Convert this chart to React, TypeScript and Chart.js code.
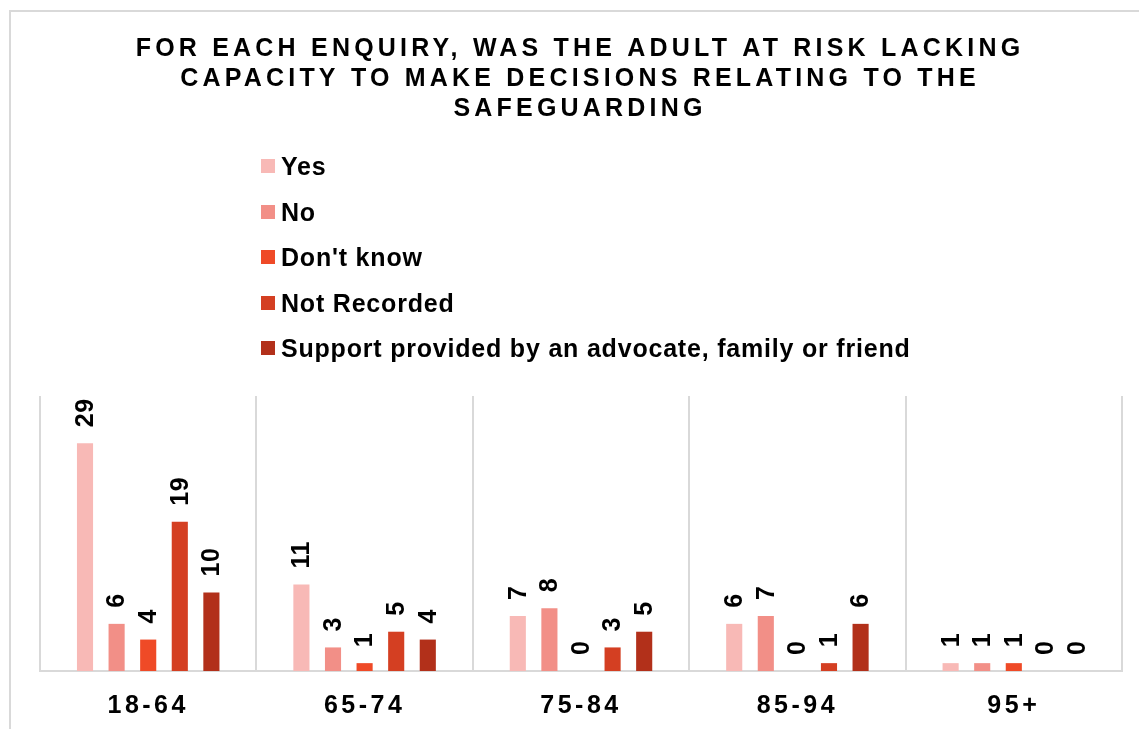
import React, { useEffect, useRef } from "react";
import { Chart, registerables } from "chart.js";

Chart.register(...registerables);

const TITLE_LINES = [
  "FOR EACH ENQUIRY, WAS THE ADULT AT RISK LACKING",
  "CAPACITY TO MAKE DECISIONS RELATING TO THE",
  "SAFEGUARDING",
];
const CATEGORIES = ["18-64", "65-74", "75-84", "85-94", "95+"];
const SERIES_NAMES = [
  "Yes",
  "No",
  "Don't know",
  "Not Recorded",
  "Support provided by an advocate, family or friend",
];
const YES = [29, 11, 7, 6, 1];
const NO = [6, 3, 8, 7, 1];
const DONT_KNOW = [4, 1, 0, 0, 1];
const NOT_RECORDED = [19, 5, 3, 1, 0];
const SUPPORT = [10, 4, 5, 6, 0];
const COLORS = ["#F8B9B6", "#F28F87", "#EF4A27", "#D43F22", "#B2301A"];

const FONT = "Arial, 'Liberation Sans', sans-serif";

const decorPlugin = {
  id: "decor",
  beforeDraw(chart: any) {
    const ctx = chart.ctx;
    ctx.save();
    ctx.fillStyle = "#fff";
    ctx.fillRect(0, 0, chart.width, chart.height);
    ctx.fillStyle = "#D9D9D9";
    ctx.fillRect(9, 10, chart.width - 9, 2);
    ctx.fillRect(9, 10, 2, chart.height - 10);
    ctx.restore();
    ctx.letterSpacing = "3.5px";
  },
  beforeDatasetsDraw(chart: any) {
    chart.ctx.letterSpacing = "0px";
  },
  afterDatasetsDraw(chart: any) {
    const ctx = chart.ctx;
    ctx.save();
    ctx.fillStyle = "#000";
    ctx.font = `bold 25px ${FONT}`;
    ctx.letterSpacing = "0.5px";
    chart.data.datasets.forEach((ds: any, di: number) => {
      const meta = chart.getDatasetMeta(di);
      meta.data.forEach((bar: any, i: number) => {
        const v = ds.data[i];
        ctx.save();
        ctx.translate(bar.x, bar.y - 16);
        ctx.rotate(-Math.PI / 2);
        ctx.textAlign = "left";
        ctx.textBaseline = "middle";
        ctx.fillText(String(v), 0, 1);
        ctx.restore();
      });
    });
    ctx.restore();
  },
  afterDraw(chart: any) {
    const ctx = chart.ctx;
    ctx.save();
    ctx.fillStyle = "#000";
    ctx.font = `bold 25px ${FONT}`;
    ctx.letterSpacing = "4.2px";
    ctx.textAlign = "center";
    ctx.textBaseline = "alphabetic";
    TITLE_LINES.forEach((line, i) => {
      ctx.fillText(line, 580, 56 + i * 30);
    });
    ctx.letterSpacing = "0.8px";
    ctx.font = `bold 25px ${FONT}`;
    ctx.textAlign = "left";
    chart.data.datasets.forEach((ds: any, i: number) => {
      const cy = 166 + i * 45.5;
      ctx.fillStyle = ds.backgroundColor;
      ctx.fillRect(261, Math.round(cy - 7), 14, 14);
      ctx.fillStyle = "#000";
      ctx.fillText(ds.label, 281, cy + 9);
    });
    ctx.restore();
  },
};

export default function App() {
  const ref = useRef<HTMLCanvasElement>(null);
  useEffect(() => {
    const values = [YES, NO, DONT_KNOW, NOT_RECORDED, SUPPORT];
    const chart = new Chart(ref.current!, {
      type: "bar",
      data: {
        labels: CATEGORIES,
        datasets: SERIES_NAMES.map((name, i) => ({
          label: name,
          data: values[i],
          backgroundColor: COLORS[i],
          borderWidth: 0,
          categoryPercentage: 0.73,
          barPercentage: 0.51,
        })),
      },
      options: {
        animation: false,
        responsive: false,
        devicePixelRatio: 1,
        layout: { padding: { left: 40, right: 17, top: 396, bottom: -12 } },
        plugins: {
          legend: { display: false },
          title: { display: false },
          tooltip: { enabled: false },
        },
        scales: {
          x: {
            grid: {
              offset: true,
              color: "#D9D9D9",
              lineWidth: 2,
              drawTicks: false,
            },
            border: { display: true, color: "#D9D9D9", width: 2 },
            ticks: {
              color: "#000",
              font: { family: FONT, size: 25, weight: "bold" },
              padding: 20,
              autoSkip: false,
              maxRotation: 0,
            },
          },
          y: {
            display: false,
            min: 0,
            max: 35,
          },
        },
      },
      plugins: [decorPlugin],
    });
    return () => chart.destroy();
  }, []);

  return (
    <div
      style={{
        position: "fixed",
        left: 0,
        top: 0,
        width: 1139,
        height: 729,
        overflow: "hidden",
        background: "#fff",
      }}
    >
      <canvas
        ref={ref}
        width={1139}
        height={729}
        style={{ display: "block", width: 1139, height: 729 }}
      />
    </div>
  );
}
